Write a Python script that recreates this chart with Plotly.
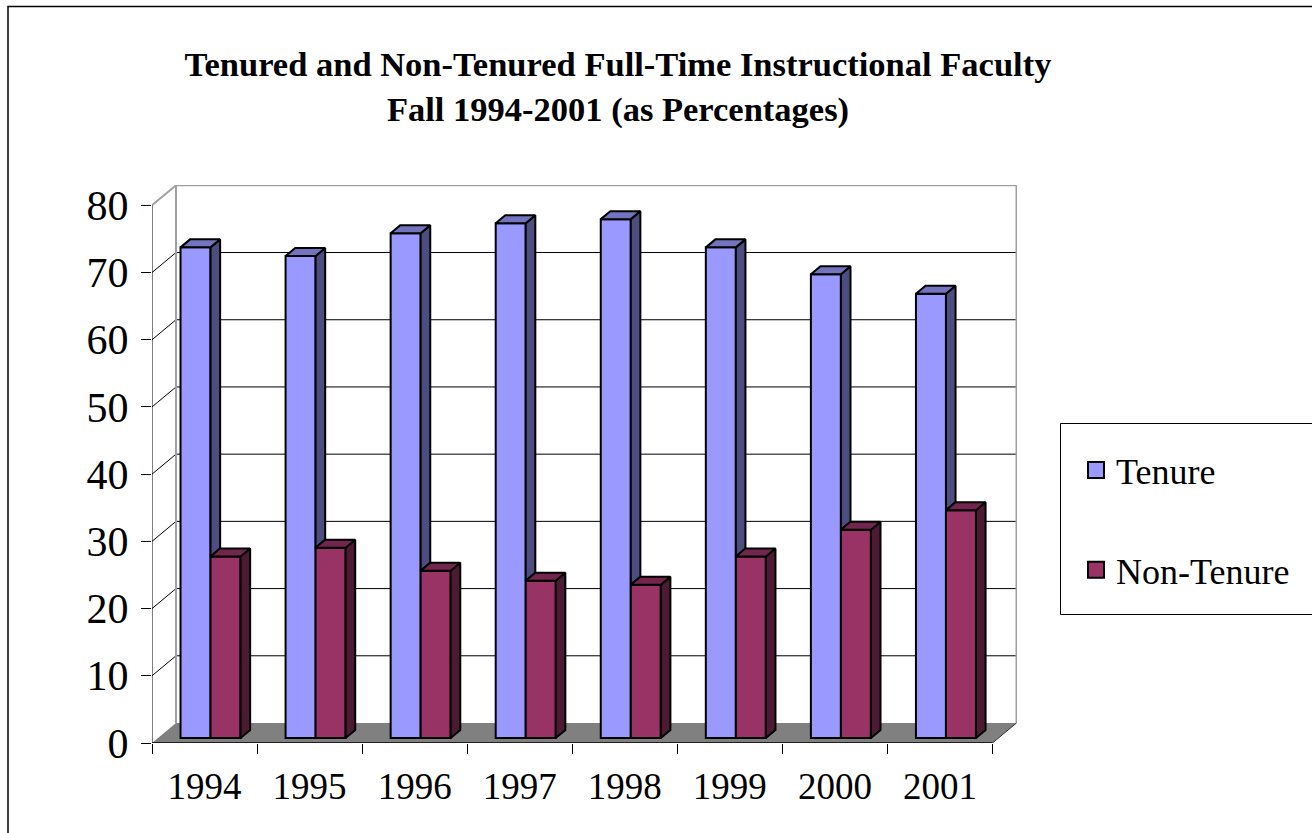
import plotly.graph_objects as go

# ---------------- data ----------------
years = ["1994", "1995", "1996", "1997", "1998", "1999", "2000", "2001"]
tenure = [73.0, 71.7, 75.1, 76.6, 77.2, 73.0, 69.0, 66.1]
non_tenure = [27.0, 28.3, 24.9, 23.4, 22.8, 27.0, 31.0, 33.9]
y_ticks = [0, 10, 20, 30, 40, 50, 60, 70, 80]
series_names = ["Tenure", "Non-Tenure"]

# ---------------- styling / geometry ----------------
W, H = 1312, 833
L, R, T, B = 152, 295, 185, 90
FONT = "Liberation Serif"
front_cols = ["#9999FF", "#993366"]
top_cols = ["#7373BF", "#73264D"]
side_cols = ["#4D4D80", "#4D1A33"]

n = len(years)
idx = list(range(n))
cat_px = (W - L - R - 25) / n          # pixels per category on the front plane
px_per_unit = 6.721                   # pixels per y unit on the front plane
DX = 24 / cat_px                      # wall depth in x units
DY = 20 / px_per_unit                 # wall depth in y units
x_range = [-0.5, n - 0.5 + DX + 0.5 / cat_px]
y_range = [0, (H - T - B) / px_per_unit]

bw = 0.2857                           # bar width (category fraction)
f0 = 0.25                             # depth of bar front plane
fd = 0.40                             # bar depth
sx, sy = f0 * DX, f0 * DY
ddx, ddy = fd * DX, fd * DY

fig = go.Figure()

# front faces (real bars)
for k, vals in enumerate([tenure, non_tenure]):
    off = (-bw if k == 0 else 0) + sx
    fig.add_trace(go.Bar(
        x=idx, y=vals, base=sy, width=bw, offset=off,
        marker=dict(color=front_cols[k], line=dict(color="black", width=2)),
        name=series_names[k], legendgroup=series_names[k], showlegend=False,
        hovertemplate="%{customdata}: %{y}<extra>" + series_names[k] + "</extra>",
        customdata=years,
    ))

def poly_trace(xs, ys, color, group):
    return go.Scatter(x=xs, y=ys, mode="lines", fill="toself", fillcolor=color,
                      line=dict(color="black", width=2), hoverinfo="skip",
                      showlegend=False, legendgroup=group)

# side and top faces
for k, vals in enumerate([tenure, non_tenure]):
    sxs, sys_, txs, tys = [], [], [], []
    for i, v in enumerate(vals):
        xl = i + (-bw if k == 0 else 0) + sx
        xr = xl + bw
        top = sy + v
        low = sy + (non_tenure[i] if k == 0 else 0)   # tenure side hidden below non-tenure bar
        sxs += [xr, xr + ddx, xr + ddx, xr, xr, None]
        sys_ += [low, low + ddy, top + ddy, top, low, None]
        txs += [xl, xr, xr + ddx, xl + ddx, xl, None]
        tys += [top, top, top + ddy, top + ddy, top, None]
    fig.add_trace(poly_trace(sxs, sys_, side_cols[k], series_names[k]))
    fig.add_trace(poly_trace(txs, tys, top_cols[k], series_names[k]))

# legend entries
for k in range(2):
    fig.add_trace(go.Scatter(
        x=[None], y=[None], mode="markers", name=series_names[k],
        legendgroup=series_names[k],
        marker=dict(symbol="square", size=16, color=front_cols[k],
                    line=dict(color="black", width=2)),
    ))

# ---------------- walls, floor, gridlines ----------------
shapes = []
x0, x1 = -0.5, n - 0.5
ymax = y_ticks[-1]
shapes.append(dict(type="path", layer="below", xref="x", yref="y",
                   path=f"M{x0},0 L{x1},0 L{x1+DX},{DY} L{x0+DX},{DY} Z",
                   fillcolor="#808080", line=dict(width=0)))
for v in y_ticks[1:-1]:
    shapes.append(dict(type="line", layer="below", xref="x", yref="y",
                       x0=x0 + DX, y0=v + DY, x1=x1 + DX, y1=v + DY,
                       line=dict(color="black", width=1)))
    shapes.append(dict(type="line", layer="below", xref="x", yref="y",
                       x0=x0, y0=v, x1=x0 + DX, y1=v + DY,
                       line=dict(color="black", width=1)))
gray = "#A0A0A0"
shapes.append(dict(type="line", layer="below", xref="x", yref="y",
                   x0=x0 + DX, y0=ymax + DY, x1=x1 + DX, y1=ymax + DY,
                   line=dict(color=gray, width=2)))
shapes.append(dict(type="line", layer="below", xref="x", yref="y",
                   x0=x0, y0=ymax, x1=x0 + DX, y1=ymax + DY,
                   line=dict(color=gray, width=2)))
shapes.append(dict(type="line", layer="below", xref="x", yref="y",
                   x0=x0 + DX, y0=DY, x1=x0 + DX, y1=ymax + DY,
                   line=dict(color=gray, width=2)))
shapes.append(dict(type="line", layer="below", xref="x", yref="y",
                   x0=x1 + DX, y0=DY, x1=x1 + DX, y1=ymax + DY,
                   line=dict(color=gray, width=2)))
# front axis lines
shapes.append(dict(type="line", layer="above", xref="x", yref="y",
                   x0=x0, y0=0, x1=x0, y1=ymax, line=dict(color="black", width=1)))
shapes.append(dict(type="line", layer="above", xref="x", yref="y",
                   x0=x0, y0=0, x1=x1, y1=0, line=dict(color="black", width=1.5)))
shapes.append(dict(type="line", layer="above", xref="x", yref="y",
                   x0=x1, y0=0, x1=x1 + DX, y1=DY, line=dict(color="#333333", width=1)))

# legend box and outer border (paper coords)
pw, ph = W - L - R, H - T - B
def px2paper(px, py):
    return (px - L) / pw, (H - B - py) / ph
lx0, ly1 = px2paper(1060.5, 423.5)
lx1, ly0 = px2paper(1330, 614.5)
shapes.append(dict(type="rect", xref="paper", yref="paper", x0=lx0, y0=ly0, x1=lx1, y1=ly1,
                   line=dict(color="black", width=1), fillcolor="rgba(0,0,0,0)"))
bx0, by1 = px2paper(8, 6.5)
bx1, by0 = px2paper(1340, 860)
shapes.append(dict(type="rect", xref="paper", yref="paper", x0=bx0, y0=by0, x1=bx1, y1=by1,
                   line=dict(color="black", width=1.5), fillcolor="rgba(0,0,0,0)"))

legx, legy = px2paper(1076, 440)

fig.update_layout(
    width=W, height=H,
    margin=dict(l=L, r=R, t=T, b=B, autoexpand=False),
    paper_bgcolor="white", plot_bgcolor="white",
    barmode="overlay",
    shapes=shapes,
    title=dict(
        text="<b>Tenured and Non-Tenured Full-Time Instructional Faculty<br>Fall 1994-2001 (as Percentages)</b>",
        x=618 / W, xanchor="center", y=1 - 76 / H, yanchor="top",
        font=dict(family=FONT, size=34.5, color="black"),
    ),
    xaxis=dict(
        range=x_range, tickmode="array", tickvals=idx, ticktext=years, ticks="",
        showgrid=False, zeroline=False, showline=False,
        tickfont=dict(family=FONT, size=37, color="black"),
        minor=dict(tickmode="array", tickvals=[i - 0.5 for i in range(n + 1)],
                   ticks="outside", ticklen=10, tickcolor="black", tickwidth=1, showgrid=False),
        ticklabelstandoff=18, fixedrange=True,
    ),
    yaxis=dict(
        range=y_range, tickmode="array", tickvals=y_ticks, ticks="outside",
        ticklen=10, tickcolor="black", tickwidth=1,
        showgrid=False, zeroline=False, showline=False,
        tickfont=dict(family=FONT, size=42, color="black"),
        ticklabelstandoff=4, fixedrange=True,
    ),
    legend=dict(
        x=legx, y=legy, xanchor="left", yanchor="top",
        font=dict(family=FONT, size=36, color="black"),
        bgcolor="rgba(0,0,0,0)", borderwidth=0,
        traceorder="grouped", tracegroupgap=50,
    ),
    showlegend=True,
)

fig.write_html("out.html", config={"displayModeBar": False},
               post_script="document.body.style.margin='0';")
